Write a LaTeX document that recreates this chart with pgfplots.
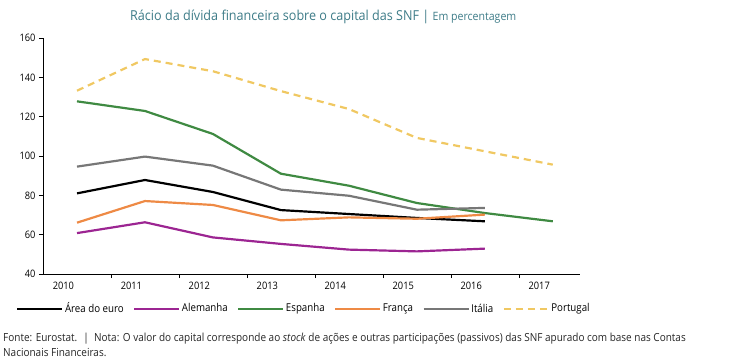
\documentclass[border=0pt]{standalone}
\usepackage{fontspec}
\setmainfont{Open Sans}
\newfontfamily\condfont[FakeStretch=0.9]{Open Sans}
\newfontfamily\titlefont[FakeStretch=0.92]{Open Sans}
\usepackage{pgfplots}
\pgfplotsset{compat=1.18}
\definecolor{ttl}{HTML}{3E7C88}
\definecolor{cpurple}{HTML}{9C2592}
\definecolor{cgreen}{HTML}{3F8A42}
\definecolor{corange}{HTML}{EE8A45}
\definecolor{cgray}{HTML}{777777}
\definecolor{cyellow}{HTML}{F0C862}
\begin{document}
\begin{tikzpicture}
\useasboundingbox (0,0) rectangle (750bp,-364bp);
\node[anchor=base west, text=ttl, inner sep=0pt] at (130bp,-20bp) {\titlefont\fontsize{13.7bp}{15bp}\selectfont Rácio da dívida financeira sobre o capital das SNF | {\fontsize{11.5bp}{12bp}\selectfont Em percentagem}};
\begin{axis}[
  scale only axis,
  width=537bp, height=236bp,
  at={(43bp,-274bp)}, anchor=south west,
  xmin=0, xmax=7.9, ymin=40, ymax=160,
  axis lines=left,
  axis line style={-, line width=0.8pt},
  ytick={40,60,...,160},
  xtick={0.3,1.3,...,7.3},
  xticklabels={2010,2011,2012,2013,2014,2015,2016,2017},
  minor xtick={1,2,...,7},
  major x tick style={draw=none},
  minor x tick style={black, line width=0.5pt},
  tick style={black, line width=0.5pt},
  tick align=outside,
  major tick length=4bp, minor tick length=4bp,
  tick label style={font=\condfont\fontsize{10.3bp}{11bp}\selectfont},
  xticklabel style={yshift=-0.5bp},
  /pgf/number format/assume math mode=true,
  legend columns=6,
  legend style={draw=none, at={(-0.05,-0.115)}, anchor=north west, font=\condfont\fontsize{10.8bp}{12bp}\selectfont, inner sep=0pt,
    nodes={inner sep=1.5bp},
    /tikz/every even column/.append style={column sep=8bp}},
  legend image code/.code={\draw[#1] (0bp,0bp) -- (45bp,0bp);},
  every axis plot/.append style={line width=2.2pt, line join=round},
]
\addplot[black] coordinates {(0.5,81.0) (1.5,87.8) (2.5,81.7) (3.5,72.5) (4.5,70.5) (5.5,68.5) (6.5,66.8)};
\addlegendentry{Área do euro}
\addplot[cpurple] coordinates {(0.5,60.8) (1.5,66.3) (2.5,58.6) (3.5,55.3) (4.5,52.4) (5.5,51.5) (6.5,52.9)};
\addlegendentry{Alemanha}
\addplot[cgreen] coordinates {(0.5,127.8) (1.5,122.9) (2.5,111.2) (3.5,91.0) (4.5,84.9) (5.5,76.1) (6.5,71.0) (7.5,66.8)};
\addlegendentry{Espanha}
\addplot[corange] coordinates {(0.5,66.1) (1.5,77.1) (2.5,75.1) (3.5,67.3) (4.5,68.8) (5.5,68.1) (6.5,70.2)};
\addlegendentry{França}
\addplot[cgray] coordinates {(0.5,94.6) (1.5,99.7) (2.5,95.1) (3.5,82.9) (4.5,79.8) (5.5,72.7) (6.5,73.6)};
\addlegendentry{Itália}
\addplot[cyellow, dash pattern=on 7bp off 5bp] coordinates {(0.5,133.2) (1.5,149.3) (2.5,143.1) (3.5,133.0) (4.5,123.9) (5.5,109.2) (6.5,102.4) (7.5,95.6)};
\addlegendentry{Portugal}
\end{axis}
\node[anchor=base west, inner sep=0pt, text=black!85] at (3bp,-341bp) {\condfont\fontsize{11.1bp}{12bp}\selectfont Fonte: Eurostat. \ | \ Nota: O valor do capital corresponde ao \textit{stock} de ações e outras participações (passivos) das SNF apurado com base nas Contas};
\node[anchor=base west, inner sep=0pt, text=black!85] at (3bp,-356bp) {\condfont\fontsize{11.1bp}{12bp}\selectfont Nacionais Financeiras.};
\end{tikzpicture}
\end{document}
